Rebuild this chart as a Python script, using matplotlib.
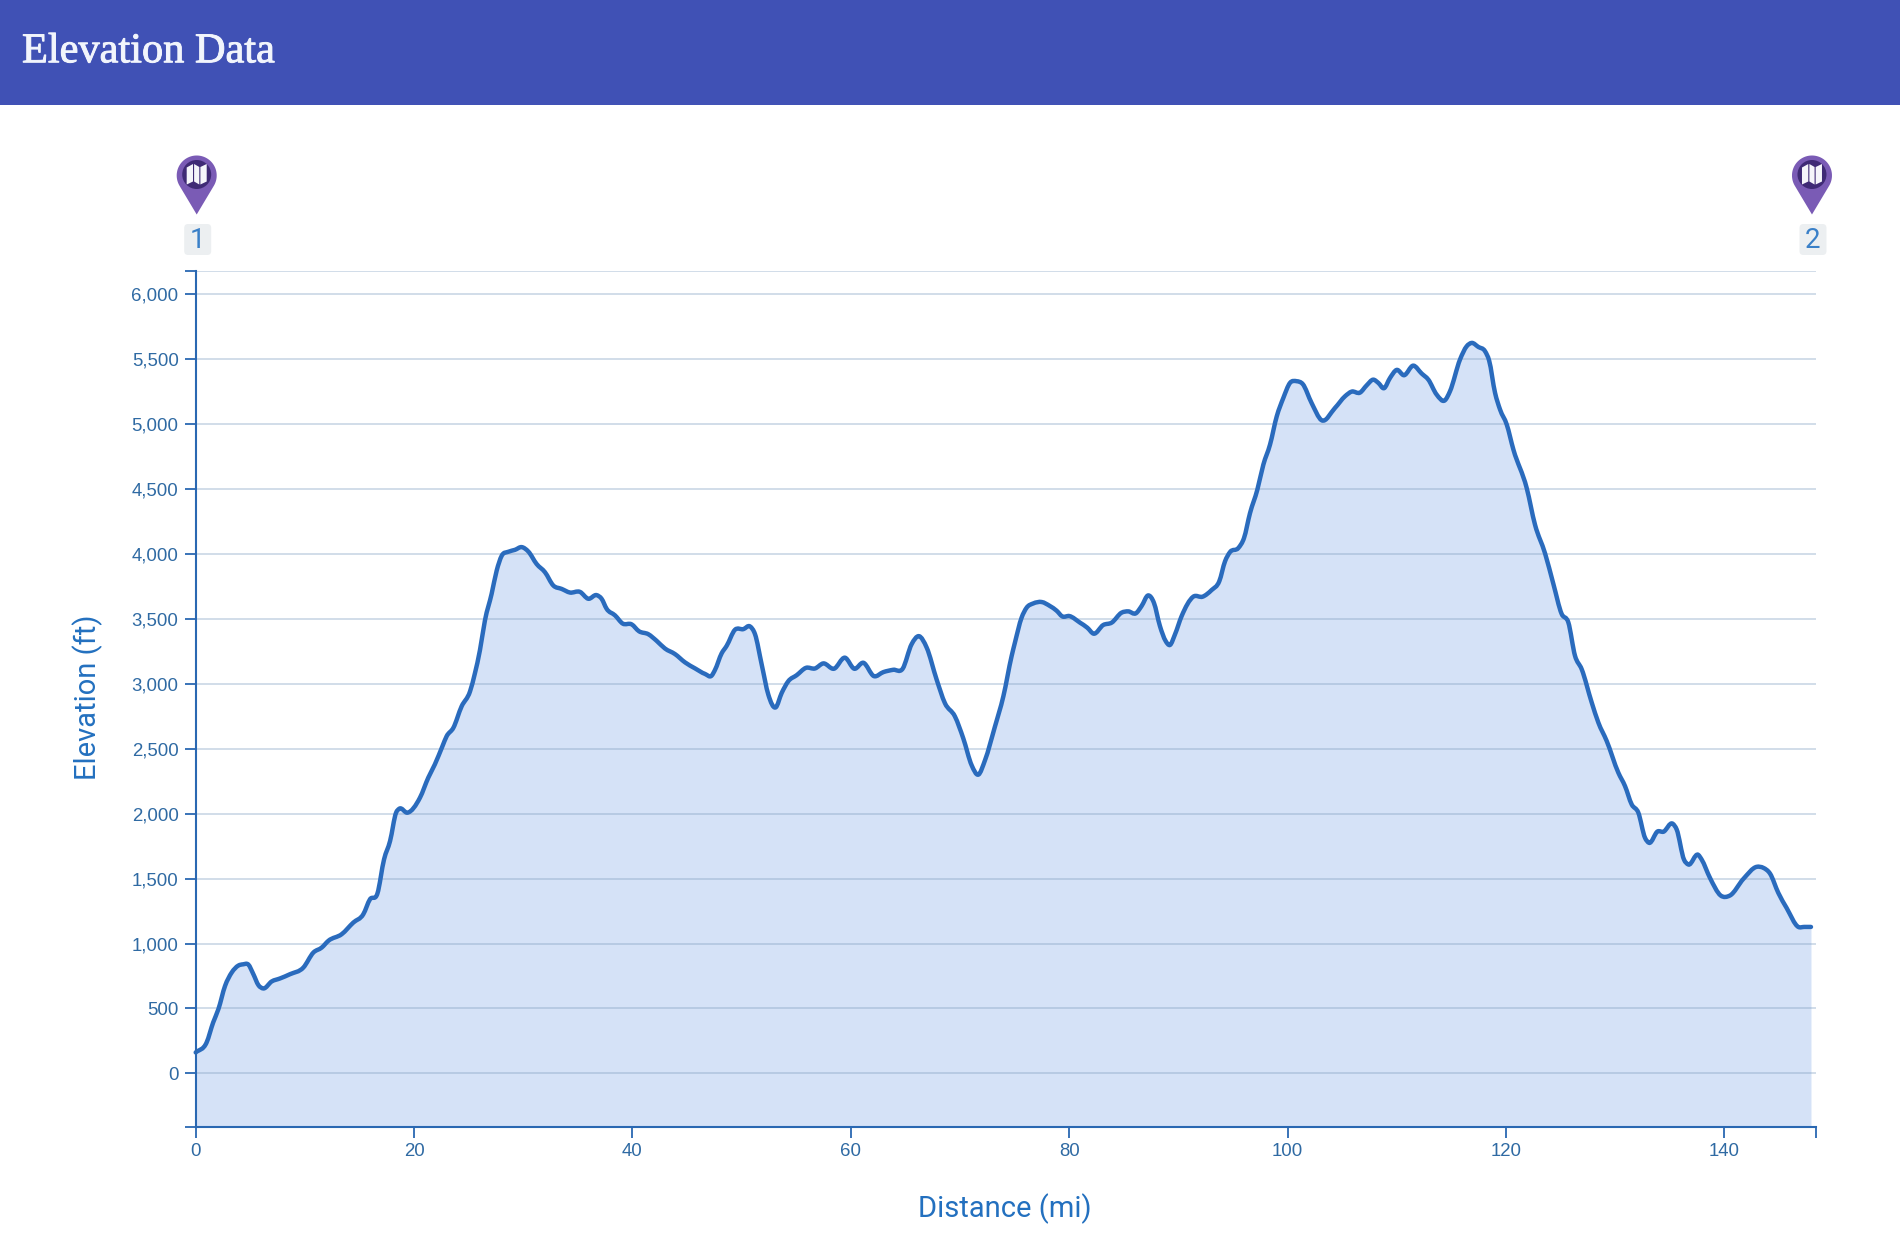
# elevation profile chart
import numpy as np
import matplotlib
matplotlib.use('Agg')
import matplotlib.pyplot as plt
import matplotlib.patheffects as pe
from matplotlib.path import Path
from matplotlib.patches import Circle, FancyBboxPatch, PathPatch, Polygon, Rectangle

distance = [0, 1.0, 1.6, 2.08, 2.69, 3.3, 3.9, 4.35, 4.82, 5.28, 5.74, 6.2, 6.96, 7.72, 8.64, 9.86,
            10.78, 11.54, 12.15, 13.37, 14.44, 15.35, 15.96, 16.64, 17.25, 17.8, 18.35, 18.65,
            19.38, 20.54, 21.3, 21.9, 22.6, 22.98, 23.59, 24.35, 25.12, 25.57, 26.03, 26.49,
            27.1, 27.56, 28.02, 28.63, 29.24, 29.85, 30.46, 31.22, 31.99, 32.75, 33.51, 34.27,
            35.19, 35.95, 36.72, 37.17, 37.63, 38.4, 39.1, 39.92, 40.59, 41.45, 42.21, 42.97,
            43.89, 44.81, 45.72, 46.64, 47.25, 47.55, 48.16, 48.62, 49.38, 50.15, 50.76, 51.22,
            51.83, 52.44, 53.11, 53.66, 54.27, 55.03, 55.89, 56.71, 57.47, 58.45, 59.46, 60.31,
            61.14, 62.11, 62.97, 63.88, 64.74, 65.56, 66.23, 66.94, 67.85, 68.61, 69.53, 70.29,
            71.06, 71.67, 72.28, 73.19, 73.96, 74.72, 75.02, 75.63, 76.09, 76.7, 77.47, 78.23,
            78.84, 79.36, 80.0, 80.98, 81.65, 82.23, 83.11, 83.88, 84.79, 85.4, 86.1, 86.62,
            87.23, 87.75, 88.3, 88.82, 89.22, 89.68, 90.29, 91.35, 92.21, 93.03, 93.74, 94.26,
            94.72, 95.48, 96.0, 96.55, 97.22, 97.77, 98.38, 99.0, 99.6, 100.21, 100.82, 101.37,
            102.19, 103.11, 104.33, 105.25, 105.86, 106.62, 107.23, 107.84, 108.3, 108.82,
            109.37, 109.98, 110.65, 111.5, 112.27, 112.88, 113.64, 114.4, 114.86, 115.78,
            116.39, 116.85, 117.46, 118.07, 118.45, 118.99, 119.45, 120.06, 120.67, 121.89,
            122.65, 123.57, 124.33, 125.09, 125.7, 126.31, 126.92, 127.84, 128.45, 129.21,
            130.28, 130.89, 131.5, 132.11, 132.72, 133.09, 133.88, 134.4, 135.26, 135.62,
            136.29, 136.69, 137.6, 137.91, 138.67, 139.65, 140.5, 141.73, 142.95, 143.56,
            144.17, 144.93, 145.69, 146.76, 147.3, 147.92]
elevation = [161, 238, 392, 495, 674, 777, 830, 840, 838, 764, 680, 654, 708, 731, 764, 815,
             931, 969, 1021, 1072, 1162, 1226, 1341, 1385, 1649, 1790, 2008, 2039,
             2008, 2124, 2278, 2380, 2521, 2597, 2661, 2827, 2942, 3082, 3260, 3490,
             3694, 3872, 3987, 4018, 4033, 4054, 4020, 3924, 3860, 3758, 3732, 3704,
             3709, 3656, 3684, 3656, 3579, 3528, 3465, 3459, 3406, 3383, 3332, 3273,
             3230, 3166, 3120, 3077, 3064, 3107, 3235, 3293, 3417, 3422, 3443, 3383,
             3150, 2917, 2819, 2930, 3021, 3067, 3124, 3119, 3158, 3117, 3202, 3117,
             3163, 3060, 3091, 3109, 3117, 3306, 3368, 3280, 3034, 2852, 2749, 2581,
             2373, 2301, 2412, 2671, 2904, 3215, 3318, 3510, 3587, 3620, 3631, 3600,
             3564, 3520, 3523, 3472, 3433, 3387, 3454, 3472, 3549, 3559, 3544, 3600,
             3682, 3625, 3446, 3331, 3300, 3382, 3523, 3672, 3672, 3723, 3792, 3944,
             4016, 4047, 4124, 4316, 4496, 4689, 4843, 5062, 5203, 5319, 5332, 5311,
             5164, 5031, 5126, 5216, 5252, 5244, 5300, 5344, 5319, 5278,
             5357, 5419, 5378, 5452, 5391, 5344, 5229, 5185, 5254, 5499,
             5601, 5627, 5596, 5563, 5490, 5242, 5113, 4998, 4805, 4508,
             4226, 4005, 3770, 3539, 3474, 3217, 3114, 2857, 2702, 2561,
             2316, 2213, 2072, 2008, 1815, 1776, 1864, 1861, 1923, 1879,
             1647, 1609, 1683, 1647, 1506, 1370, 1370, 1498, 1591, 1583,
             1539, 1390, 1274, 1128, 1128, 1128]

y_ticks = [0, 500, 1000, 1500, 2000, 2500, 3000, 3500, 4000, 4500, 5000, 5500, 6000]
x_ticks = [0, 20, 40, 60, 80, 100, 120, 140]
x_range = [0, 148.38]
y_range = [-411, 6181]
waypoints = [0, 147.92]
waypoint_labels = ['1', '2']

AXIS = '#2a68b2'
TICK_TEXT = '#2f6aa3'
LABEL = '#2370bf'

W, H = 1900, 1251
fig = plt.figure(figsize=(W / 100, H / 100), dpi=100, facecolor='white')
ax = fig.add_axes([195.7 / W, 1 - 1126.7 / H, 1620.3 / W, 855.7 / H])
ax.set_xlim(x_range)
ax.set_ylim(y_range)

ax.fill_between(distance, elevation, y_range[0], color='#d5e2f7', lw=0, zorder=1)
for v in y_ticks + [y_range[1]]:
    ax.axhline(v, color='#7fa0c0', alpha=0.42, lw=1.2, zorder=2)


def smooth_path(xs, ys):
    # bezier through the read points, the original line is a curve too
    xs = np.asarray(xs, float)
    ys = np.asarray(ys, float)
    slope = np.gradient(ys, xs)
    verts = [(xs[0], ys[0])]
    codes = [Path.MOVETO]
    for i in range(len(xs) - 1):
        dx = (xs[i + 1] - xs[i]) / 3
        verts += [(xs[i] + dx, ys[i] + slope[i] * dx),
                  (xs[i + 1] - dx, ys[i + 1] - slope[i + 1] * dx),
                  (xs[i + 1], ys[i + 1])]
        codes += [Path.CURVE4] * 3
    return Path(verts, codes)


ax.add_patch(PathPatch(smooth_path(distance, elevation), fc='none', ec='#2a6bbd', lw=3.2,
                       capstyle='round', joinstyle='round', zorder=3, clip_on=False))

for s in ['top', 'right']:
    ax.spines[s].set_visible(False)
for s in ['left', 'bottom']:
    ax.spines[s].set_color(AXIS)
    ax.spines[s].set_linewidth(1.5)
    ax.spines[s].set_zorder(4)

ax.set_xticks(x_ticks)
ax.set_yticks(y_ticks)
ax.set_yticklabels([f'{v:,}' for v in y_ticks])
ax.set_xticks(x_range, minor=True)
ax.set_yticks(y_range, minor=True)
ax.tick_params(which='both', length=8, width=1.3, color=AXIS)
ax.tick_params(which='major', labelsize=13.4, labelcolor=TICK_TEXT, pad=4.3)
ax.tick_params(axis='x', which='major', pad=3.5)
for t in ax.get_xticklabels() + ax.get_yticklabels():
    t.set_fontfamily('Liberation Sans')

# header, pins and labels are placed in pixels
over = fig.add_axes([0, 0, 1, 1])
over.set_xlim(0, W)
over.set_ylim(H, 0)
over.axis('off')
over.add_patch(Rectangle((0, 0), W, 104.5, color='#4051b5', lw=0))
title = over.text(22, 52, 'Elevation Data', color='#f2f5fc', fontsize=30.5,
                  family='Liberation Serif', va='center', ha='left')
title.set_path_effects([pe.withStroke(linewidth=0.7, foreground='#f2f5fc')])


def draw_pin(cx, label):
    cy, r, tip = 175.5, 20, 214.5
    off = np.arccos(r / (tip - cy))
    ang = np.linspace(np.pi / 2 + off, 2.5 * np.pi - off, 60)
    outline = np.column_stack([cx + r * np.cos(ang), cy + r * np.sin(ang)])
    outline = np.vstack([outline, [cx, tip]])
    over.add_patch(Polygon(outline, closed=True, color='#7a5bb5', lw=0))
    over.add_patch(Circle((cx, cy - 1), 14.5, color='#3f2a75', lw=0))
    panels = [[(-10, -7), (-3.7, -10.5), (-3.7, 7), (-10, 10)],
              [(-2.6, -10.5), (2.6, -7.5), (2.6, 10), (-2.6, 7)],
              [(3.7, -7.5), (10, -10.5), (10, 7), (3.7, 10)]]
    for p in panels:
        over.add_patch(Polygon([(cx + a, cy - 1 + b) for a, b in p], closed=True,
                               color='#f5f5fa', lw=0))
    over.add_patch(FancyBboxPatch((cx - 9.5, 227), 21, 25,
                                  boxstyle='round,pad=3,rounding_size=4',
                                  color='#eceff1', lw=0))
    over.text(cx + 1, 240, label, color='#3a80c8', fontsize=20,
              family='Roboto', ha='center', va='center')


for mile, label in zip(waypoints, waypoint_labels):
    px = ax.transData.transform((mile, 0))[0]
    draw_pin(px + 1, label)

over.text(1005, 1209, 'Distance (mi)', color=LABEL, fontsize=21, family='Roboto',
          ha='center', va='center')
over.text(88, 697, 'Elevation (ft)', color=LABEL, fontsize=21, family='Roboto',
          ha='center', va='center', rotation=90)

fig.savefig('out.png', dpi=100)
